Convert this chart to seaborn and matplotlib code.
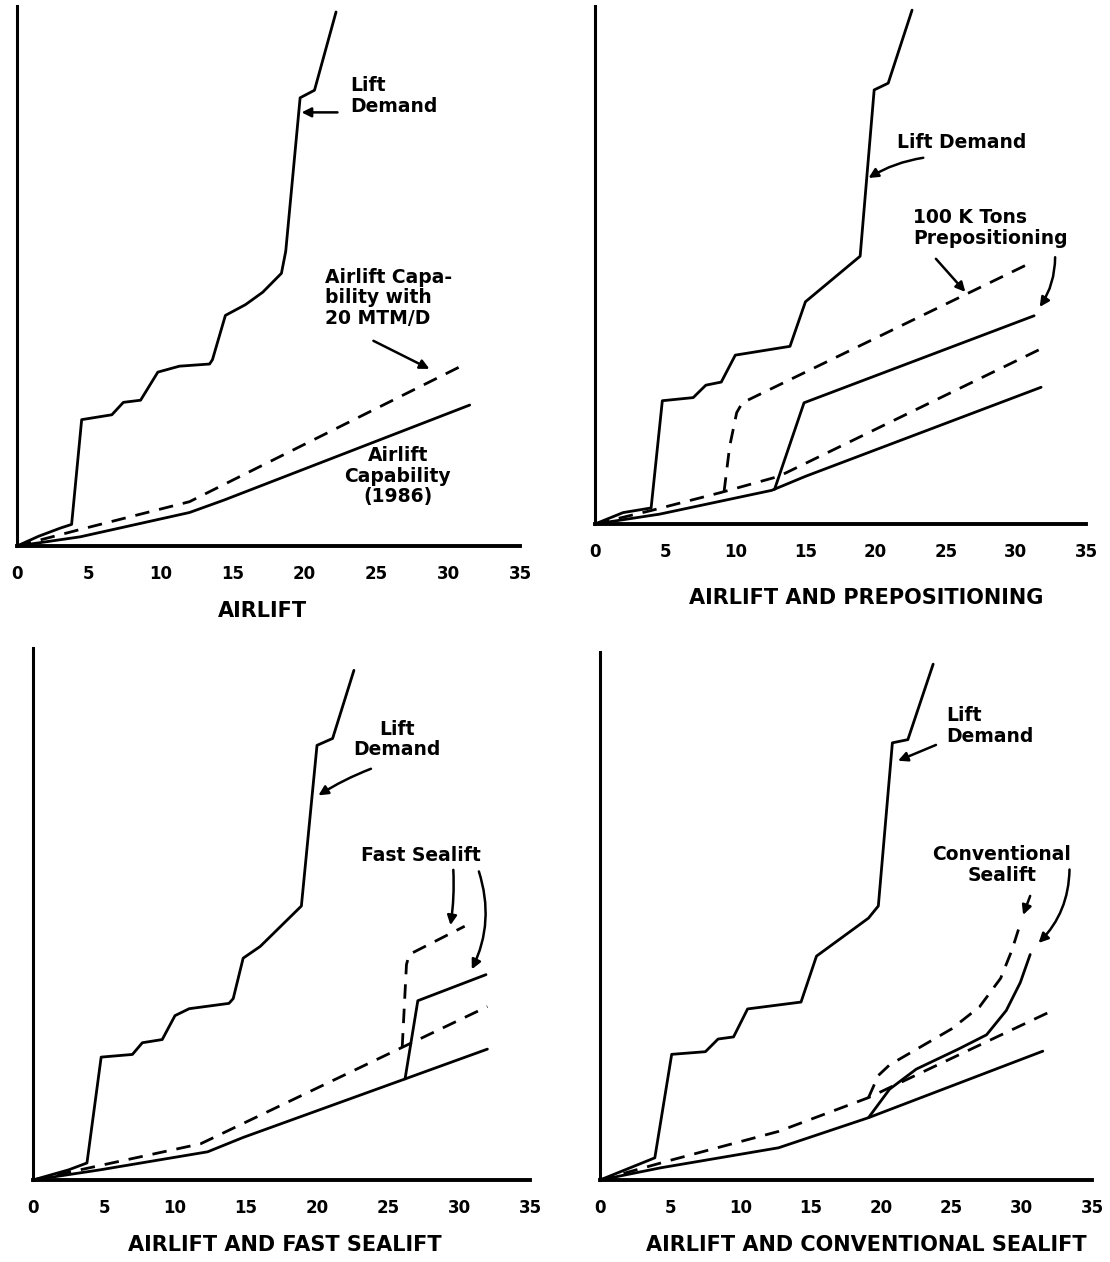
import numpy as np
import pandas as pd
import matplotlib
matplotlib.use("Agg")
import matplotlib.pyplot as plt
import seaborn as sns

sns.set_theme(style="white")
plt.rcParams["font.family"] = ["DejaVu Sans"]

# ---------------- data (x = days, y = relative lift, arbitrary units) ----------------
x_ticks = [0, 5, 10, 15, 20, 25, 30, 35]
x_tick_labels = ["0", "5", "10", "15", "20", "25", "30", "35"]

titles = ["AIRLIFT", "AIRLIFT AND PREPOSITIONING",
          "AIRLIFT AND FAST SEALIFT", "AIRLIFT AND CONVENTIONAL SEALIFT"]

# Panel 1 : Airlift
p1_demand_x = [0, 1.5, 3.0, 3.8, 4.5, 6.6, 7.4, 8.6, 9.8, 11.3, 13.4, 13.6, 14.5, 15.9, 17.1, 18.4, 18.7, 19.7, 20.7, 22.2]
p1_demand_y = [0, 1.8, 3.3, 4.0, 23.4, 24.3, 26.6, 27.0, 32.2, 33.3, 33.7, 34.5, 42.7, 44.7, 47.0, 50.5, 54.6, 83.0, 84.4, 98.9]
p1_cap_x = [0, 4.4, 12.0, 14.4, 31.5]
p1_cap_y = [0, 1.7, 6.2, 8.5, 26.1]
p1_mtm_x = [0, 4.6, 12.0, 31.2]
p1_mtm_y = [0, 3.2, 8.2, 33.7]

# Panel 2 : Airlift and prepositioning
p2_demand_x = [0, 2.0, 4.0, 4.8, 7.0, 7.9, 9.0, 10.0, 13.9, 15.0, 18.9, 19.9, 20.9, 22.6]
p2_demand_y = [0, 2.2, 3.1, 23.8, 24.4, 26.8, 27.4, 32.6, 34.3, 42.9, 51.7, 83.8, 85.1, 99.2]
p2_cap_x = [0, 4.6, 12.6, 15.0, 31.8]
p2_cap_y = [0, 1.9, 6.5, 9.2, 26.4]
p2_mtm_x = [0, 4.0, 9.0, 13.1, 31.7]
p2_mtm_y = [0, 2.6, 6.1, 9.2, 33.7]
p2_prep_dash_x = [9.2, 9.6, 10.1, 10.5, 31.2]
p2_prep_dash_y = [6.25, 15.0, 21.5, 23.4, 50.6]
p2_prep_solid_x = [12.8, 14.9, 31.3]
p2_prep_solid_y = [6.7, 23.4, 40.2]

# Panel 3 : Airlift and fast sealift
p3_demand_x = [0, 2.5, 3.8, 4.8, 7.0, 7.7, 9.1, 10.0, 11.0, 13.8, 14.1, 14.8, 16.0, 18.9, 20.0, 21.1, 22.6]
p3_demand_y = [0, 1.9, 3.2, 23.1, 23.6, 25.8, 26.4, 30.9, 32.2, 33.2, 34.1, 41.7, 43.9, 51.5, 81.7, 83.0, 95.8]
p3_cap_x = [0, 4.7, 12.3, 14.8, 26.1, 32.0]
p3_cap_y = [0, 1.9, 5.3, 8.0, 18.9, 24.6]
p3_mtm_x = [0, 5.2, 11.8, 32.0]
p3_mtm_y = [0, 3.0, 6.8, 32.6]
p3_fast_dash_x = [26.0, 26.3, 26.5, 30.4]
p3_fast_dash_y = [24.9, 40.5, 42.4, 47.7]
p3_fast_solid_x = [26.2, 27.1, 31.9]
p3_fast_solid_y = [19.0, 33.7, 38.6]

# Panel 4 : Airlift and conventional sealift
p4_demand_x = [0, 3.9, 5.1, 7.5, 8.4, 9.5, 10.5, 14.3, 15.4, 19.1, 19.8, 20.8, 21.9, 23.7]
p4_demand_y = [0, 4.2, 23.8, 24.3, 26.7, 27.1, 32.4, 33.7, 42.4, 49.6, 51.9, 82.8, 83.4, 97.7]
p4_cap_x = [0, 4.3, 12.7, 19.1, 31.5]
p4_cap_y = [0, 2.3, 6.1, 11.8, 24.4]
p4_mtm_x = [0, 5.1, 12.7, 19.1, 32.2]
p4_mtm_y = [0, 3.8, 9.2, 15.6, 32.1]
p4_conv_dash_x = [19.1, 19.8, 20.6, 25.0, 27.0, 28.5, 29.3, 29.8]
p4_conv_dash_y = [15.6, 19.8, 21.8, 28.6, 32.8, 38.2, 43.5, 47.7]
p4_conv_solid_x = [19.1, 20.6, 22.5, 25.5, 27.5, 28.9, 29.9, 30.6]
p4_conv_solid_y = [11.8, 17.2, 21.0, 24.8, 27.5, 32.1, 37.4, 42.7]

# ---------------- figure ----------------
W, H = 1110, 1262
fig = plt.figure(figsize=(W / 100, H / 100), dpi=100)
fig.patch.set_facecolor("white")

def px_axes(x0, x35, base, top):
    return fig.add_axes([x0 / W, 1 - base / H, (x35 - x0) / W, (base - top) / H])

axes = [
    px_axes(17, 520, 546, 6),
    px_axes(595, 1086, 524, 6),
    px_axes(33, 530, 1180, 648),
    px_axes(600, 1092, 1180, 652),
]

SOLID = "-"
DASH = (0, (5.2, 3.6))

def draw(ax, xs, ys, style):
    df = pd.DataFrame({"x": xs, "y": ys})
    sns.lineplot(data=df, x="x", y="y", ax=ax, color="black", linewidth=2.0,
                 linestyle=style, sort=False, estimator=None,
                 dash_capstyle="butt", solid_joinstyle="round")

series = [
    [(p1_demand_x, p1_demand_y, SOLID), (p1_cap_x, p1_cap_y, SOLID), (p1_mtm_x, p1_mtm_y, DASH)],
    [(p2_demand_x, p2_demand_y, SOLID), (p2_cap_x, p2_cap_y, SOLID), (p2_mtm_x, p2_mtm_y, DASH),
     (p2_prep_dash_x, p2_prep_dash_y, DASH), (p2_prep_solid_x, p2_prep_solid_y, SOLID)],
    [(p3_demand_x, p3_demand_y, SOLID), (p3_cap_x, p3_cap_y, SOLID), (p3_mtm_x, p3_mtm_y, DASH),
     (p3_fast_dash_x, p3_fast_dash_y, DASH), (p3_fast_solid_x, p3_fast_solid_y, SOLID)],
    [(p4_demand_x, p4_demand_y, SOLID), (p4_cap_x, p4_cap_y, SOLID), (p4_mtm_x, p4_mtm_y, DASH),
     (p4_conv_dash_x, p4_conv_dash_y, DASH), (p4_conv_solid_x, p4_conv_solid_y, SOLID)],
]

for ax, ser in zip(axes, series):
    for xs, ys, st in ser:
        draw(ax, xs, ys, st)
    ax.set_xlim(0, 35)
    ax.set_ylim(0, 100)
    ax.set_facecolor("white")
    for s in ["top", "right"]:
        ax.spines[s].set_visible(False)
    ax.spines["left"].set_linewidth(2.2)
    ax.spines["bottom"].set_linewidth(2.8)
    ax.spines["left"].set_color("black")
    ax.spines["bottom"].set_color("black")
    ax.set_xticks(x_ticks)
    ax.set_xticklabels(x_tick_labels, fontsize=12, fontweight="bold")
    ax.tick_params(axis="x", direction="out", length=6, width=1.5, pad=8, colors="black")
    ax.set_yticks([])
    ax.set_xlabel("")
    ax.set_ylabel("")
    ax.grid(False)

TXT = dict(fontsize=13.5, fontweight="bold", color="black", linespacing=1.1)
ARW = dict(arrowstyle="-|>", color="black", lw=1.8, mutation_scale=14, shrinkA=0, shrinkB=0)

def arrow(ax, tail, tip, rad=0.0):
    props = dict(ARW)
    props["connectionstyle"] = f"arc3,rad={rad}"
    ax.annotate("", xy=tip, xytext=tail, arrowprops=props)

# Panel 1 annotations
a = axes[0]
a.text(23.2, 87, "Lift\nDemand", ha="left", va="top", **TXT)
arrow(a, (22.3, 80.3), (19.8, 80.3))
a.text(21.4, 51.5, "Airlift Capa-\nbility with\n20 MTM/D", ha="left", va="top", **TXT)
arrow(a, (24.8, 38.0), (28.7, 32.8))
a.text(26.5, 18.5, "Airlift\nCapability\n(1986)", ha="center", va="top", **TXT)

# Panel 2 annotations
a = axes[1]
a.text(21.5, 73.7, "Lift Demand", ha="left", va="center", **TXT)
arrow(a, (23.4, 70.7), (19.5, 66.8), rad=0.1)
a.text(22.7, 61.0, "100 K Tons\nPrepositioning", ha="left", va="top", **TXT)
arrow(a, (24.3, 51.2), (26.4, 44.8))
arrow(a, (32.8, 51.5), (31.7, 41.9), rad=-0.15)

# Panel 3 annotations
a = axes[2]
a.text(25.6, 86.5, "Lift\nDemand", ha="center", va="top", **TXT)
arrow(a, (23.8, 77.3), (20.1, 72.3), rad=0.05)
a.text(27.3, 61.0, "Fast Sealift", ha="center", va="center", **TXT)
arrow(a, (29.6, 58.3), (29.4, 47.9), rad=-0.05)
arrow(a, (31.4, 58.0), (30.9, 39.6), rad=-0.2)

# Panel 4 annotations
a = axes[3]
a.text(24.6, 89.7, "Lift\nDemand", ha="left", va="top", **TXT)
arrow(a, (23.9, 82.4), (21.2, 79.4))
a.text(28.6, 63.4, "Conventional\nSealift", ha="center", va="top", **TXT)
arrow(a, (30.6, 53.8), (30.1, 50.2))
arrow(a, (33.4, 58.8), (31.2, 44.9), rad=-0.2)

# Panel titles
TTL = dict(fontsize=15, fontweight="bold", color="black", ha="center", va="center")
fig.text(262 / W, 1 - 611 / H, titles[0], **TTL)
fig.text(866 / W, 1 - 598 / H, titles[1], **TTL)
fig.text(285 / W, 1 - 1245 / H, titles[2], **TTL)
fig.text(866 / W, 1 - 1245 / H, titles[3], **TTL)

fig.savefig("out.png", dpi=100, facecolor="white")
